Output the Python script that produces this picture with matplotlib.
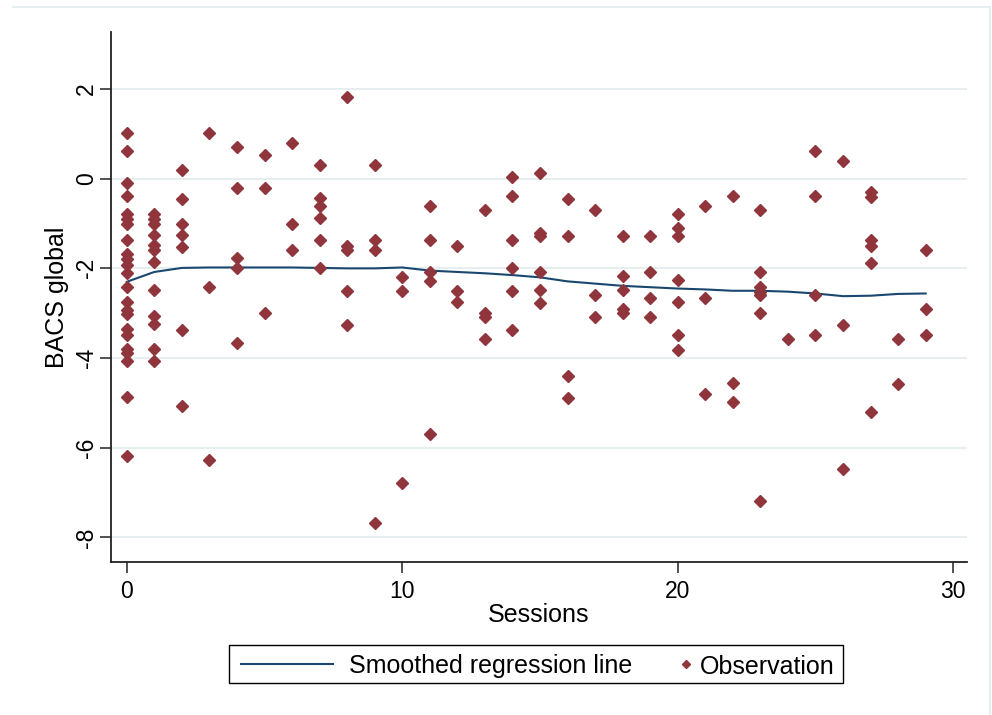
import matplotlib
matplotlib.use("Agg")
import matplotlib.pyplot as plt
from matplotlib.lines import Line2D
from matplotlib.patches import Rectangle

# observations, one list of BACS global scores per session number
sessions = list(range(30))
bacs_by_session = [
    [1.02, 0.61, -0.09, -0.38, -0.78, -0.89, -1.02, -1.37, -1.67, -1.8, -1.93, -2.1,
     -2.41, -2.75, -2.92, -3.01, -3.36, -3.49, -3.79, -3.89, -4.07, -4.88, -6.19],
    [-0.78, -0.9, -1.02, -1.26, -1.48, -1.58, -1.86, -2.49, -3.07, -3.25, -3.79, -4.07],
    [0.2, -0.46, -1.0, -1.26, -1.52, -3.38, -5.08],
    [1.02, -2.41, -6.28],
    [0.71, -0.2, -1.76, -2.0, -3.66],
    [0.52, -0.2, -2.99],
    [0.8, -1.01, -1.6],
    [0.3, -0.44, -0.61, -0.87, -1.37, -2.0],
    [1.83, -1.5, -1.58, -2.5, -3.27],
    [0.3, -1.36, -1.6, -7.68],
    [-2.19, -2.5, -6.78],
    [-0.61, -1.37, -2.08, -2.28, -5.7],
    [-1.5, -2.5, -2.76],
    [-0.69, -3.0, -3.08, -3.58],
    [0.03, -0.38, -1.37, -2.0, -2.5, -3.38],
    [0.12, -1.2, -1.28, -2.09, -2.49, -2.77],
    [-0.46, -1.28, -4.39, -4.89],
    [-0.69, -2.59, -3.08],
    [-1.28, -2.18, -2.49, -2.9, -3.0],
    [-1.28, -2.09, -2.67, -3.08],
    [-0.79, -1.09, -1.28, -2.27, -2.76, -3.49, -3.81],
    [-0.61, -2.67, -4.8],
    [-0.38, -4.56, -4.98],
    [-0.69, -2.09, -2.41, -2.53, -2.6, -2.99, -7.18],
    [-3.58],
    [0.61, -0.38, -2.59, -3.49],
    [0.39, -3.26, -6.47],
    [-0.3, -0.4, -1.36, -1.5, -1.87, -5.2],
    [-3.58, -4.57],
    [-1.6, -2.9, -3.49],
]

# smoothed (lowess) line, read at each session
smooth_y = [-2.3, -2.08, -1.99, -1.98, -1.98, -1.98, -1.98, -1.99, -2.0, -2.0,
            -1.98, -2.05, -2.08, -2.11, -2.15, -2.2, -2.29, -2.34, -2.39, -2.42,
            -2.45, -2.47, -2.5, -2.5, -2.52, -2.56, -2.62, -2.61, -2.57, -2.56]

xticks = [0, 10, 20, 30]
yticks = [2, 0, -2, -4, -6, -8]
legend_labels = ["Smoothed regression line", "Observation"]

navy = "#1a476f"
maroon = "#90353b"
grid_c = "#e6eef0"
W, H = 992, 715

plt.rcParams["font.family"] = ["Liberation Sans", "DejaVu Sans"]

obs_x = [s for s, vals in zip(sessions, bacs_by_session) for _ in vals]
obs_y = [v for vals in bacs_by_session for v in vals]

fig = plt.figure(figsize=(W / 100, H / 100), dpi=100)
ax = fig.add_axes([0.1114, 0.214, 0.8634, 0.7417])

ax.plot(sessions, smooth_y, color=navy, lw=1.5, zorder=3)
ax.plot(obs_x, obs_y, "D", ms=6.1, color=maroon, mec=maroon, zorder=4, ls="none")

ax.set_xlim(-0.59, 30.5)
ax.set_ylim(-8.55, 3.28)
ax.set_xticks(xticks)
ax.set_yticks(yticks)
ax.set_yticklabels([str(t) for t in yticks], rotation=90, va="center")
ax.tick_params(labelsize=16.5, length=8, width=1.1, color="#222222", pad=5)
ax.tick_params(axis="y", pad=1)
ax.grid(axis="y", color=grid_c, lw=1.5)
ax.set_axisbelow(True)
for side in ("top", "right"):
    ax.spines[side].set_visible(False)
for side in ("left", "bottom"):
    ax.spines[side].set_color("#222222")
    ax.spines[side].set_linewidth(1.3)

ax.set_xlabel("Sessions", fontsize=18, labelpad=0)
ax.set_ylabel("BACS global", fontsize=18, labelpad=4)


# legend box drawn by hand (Stata style: marker sits right next to its text)
def px(x, y):
    return x / W, 1 - y / H


fig.add_artist(Rectangle(px(229, 683), (843 - 229) / W, (683 - 645) / H,
                         transform=fig.transFigure, fill=False,
                         edgecolor="black", lw=1.0))
ly = 664
fig.add_artist(Line2D([px(241, ly)[0], px(333, ly)[0]], [px(0, ly)[1]] * 2,
                      transform=fig.transFigure, color=navy, lw=1.5))
fig.text(*px(349, ly), legend_labels[0], fontsize=18, va="center_baseline")
fig.add_artist(Line2D([px(686, ly)[0]], [px(0, ly)[1]], transform=fig.transFigure,
                      marker="D", ms=4.2, color=maroon, ls="none"))
fig.text(*px(700, ly), legend_labels[1], fontsize=18, va="center_baseline")

# light border of the outer graph region
fig.add_artist(Line2D([13 / W, 990 / W], [1 - 7 / H, 1 - 7 / H],
                      transform=fig.transFigure, color=grid_c, lw=1.5))
fig.add_artist(Line2D([990 / W, 990 / W], [0, 1 - 7 / H],
                      transform=fig.transFigure, color=grid_c, lw=1.5))

fig.savefig("out.png", dpi=100)
